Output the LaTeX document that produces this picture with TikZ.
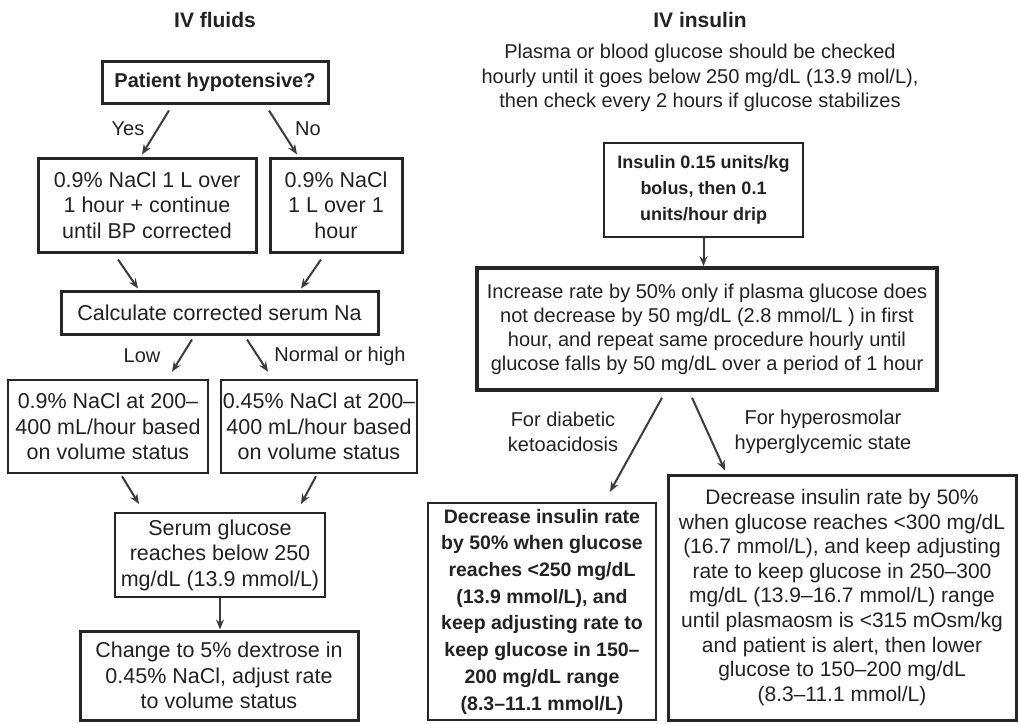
\documentclass[tikz,border=0pt]{standalone}
\usepackage{fontspec}
\setmainfont{Liberation Sans}
\usetikzlibrary{arrows.meta}
\definecolor{ink}{HTML}{222222}
\definecolor{edgec}{HTML}{262626}
\definecolor{arrc}{HTML}{3C3C3C}
\newcommand\fsBox{\fontsize{21.5pt}{25.5pt}\selectfont}
\newcommand\fsLab{\fontsize{20pt}{24pt}\selectfont}
\newcommand\fsPara{\fontsize{20pt}{24.5pt}\selectfont}
\newcommand\fsInc{\fontsize{20pt}{24pt}\selectfont}
\newcommand\fsTitle{\fontsize{21pt}{25pt}\selectfont\bfseries}
\newcommand\fsHyp{\fontsize{20pt}{24pt}\selectfont\bfseries}
\newcommand\fsIns{\fontsize{18pt}{26pt}\selectfont\bfseries}
\newcommand\fsDka{\fontsize{19.5pt}{26.7pt}\selectfont\bfseries}
\newcommand\fsHhs{\fontsize{21pt}{24.6pt}\selectfont}
\begin{document}
\begin{tikzpicture}[x=1pt,y=-1pt,
  box/.style={draw=edgec, line width=2.5pt, fill=white, text=ink, align=center, inner sep=0pt, font=\fsBox},
  lab/.style={text=ink, align=center, inner sep=0pt, font=\fsLab},
  ttl/.style={text=ink, inner sep=0pt, font=\fsTitle},
  arr/.style={draw=arrc, line width=2pt, -{Stealth[length=10pt,width=8pt]}},
]
\fill[white] (0,0) rectangle (1019,723);
\useasboundingbox (0,0) rectangle (1019,723);

% titles
\node[ttl] (t1) at (215,20) {IV fluids};
\node[ttl] (t2) at (700,20) {IV insulin};

% left column
\node[box, font=\fsHyp, line width=3pt, minimum width=226pt, minimum height=42pt] (hyp) at (215,82) {Patient hypotensive?};
\node[box, line width=3pt, minimum width=218pt, minimum height=94pt] (yesb) at (147,205) {0.9\% NaCl 1 L over\\1 hour + continue\\until BP corrected};
\node[box, line width=3pt, minimum width=132pt, minimum height=94pt] (nob) at (336,205) {0.9\% NaCl\\1 L over 1\\hour};
\node[box, line width=3pt, minimum width=317pt, minimum height=43pt] (calc) at (219.5,312.5) {Calculate corrected serum Na};
\node[box, minimum width=200pt, minimum height=93pt] (lowb) at (108,426.5) {0.9\% NaCl at 200–\\400 mL/hour based\\on volume status};
\node[box, minimum width=196pt, minimum height=93pt] (highb) at (319,426.5) {0.45\% NaCl at 200–\\400 mL/hour based\\on volume status};
\node[box, line width=2pt, minimum width=210pt, minimum height=84pt] (serum) at (220,555) {Serum glucose\\reaches below 250\\mg/dL (13.9 mmol/L)};
\node[box, line width=3pt, minimum width=278pt, minimum height=89pt] (chg) at (219,675.5) {Change to 5\% dextrose in\\0.45\% NaCl, adjust rate\\to volume status};

\node[lab] (yl) at (128,129) {Yes};
\node[lab] (nl) at (308,129) {No};
\node[lab] (ll) at (142,356) {Low};
\node[lab] (hl) at (340,356) {Normal or high};

\draw[arr] ([xshift=-46pt,yshift=-6pt]hyp.south) -- ([xshift=-5pt,yshift=2pt]yesb.north);
\draw[arr] ([xshift=54pt,yshift=-6pt]hyp.south) -- ([xshift=-39pt,yshift=2pt]nob.north);
\draw[arr] ([xshift=-29pt,yshift=-6pt]yesb.south) -- ([xshift=-81.5pt,yshift=1pt]calc.north);
\draw[arr] ([xshift=-15pt,yshift=-6pt]nob.south) -- ([xshift=81.5pt,yshift=1pt]calc.north);
\draw[arr] ([xshift=-27.5pt,yshift=-4pt]calc.south) -- ([xshift=64pt,yshift=7pt]lowb.north);
\draw[arr] ([xshift=27.5pt,yshift=-4pt]calc.south) -- ([xshift=-51pt,yshift=7pt]highb.north);
\draw[arr] ([xshift=14pt,yshift=-2pt]lowb.south) -- ([xshift=-81pt,yshift=8pt]serum.north);
\draw[arr] ([xshift=-3pt,yshift=-2pt]highb.south) -- ([xshift=81pt,yshift=8pt]serum.north);
\draw[arr] (serum.south) -- (serum.south |- chg.north);

% right column
\node[lab, font=\fsPara] (para) at (700,78) {Plasma or blood glucose should be checked\\hourly until it goes below 250 mg/dL (13.9 mol/L),\\then check every 2 hours if glucose stabilizes};
\node[box, font=\fsIns, line width=2pt, minimum width=199pt, minimum height=94pt] (ins) at (703.5,190) {Insulin 0.15 units/kg\\bolus, then 0.1\\units/hour drip};
\node[box, font=\fsInc, line width=3.5pt, minimum width=460pt, minimum height=122pt] (inc) at (707,329) {Increase rate by 50\% only if plasma glucose does\\not decrease by 50 mg/dL (2.8 mmol/L ) in first\\hour, and repeat same procedure hourly until\\glucose falls by 50 mg/dL over a period of 1 hour};
\node[lab, font=\fsPara] (dl) at (563,432) {For diabetic\\ketoacidosis};
\node[lab, font=\fsPara] (hhl) at (823,432) {For hyperosmolar\\hyperglycemic state};
\node[box, font=\fsDka, minimum width=228pt, minimum height=217pt] (dka) at (542,611.5) {Decrease insulin rate\\by 50\% when glucose\\reaches <250 mg/dL\\(13.9 mmol/L), and\\keep adjusting rate to\\keep glucose in 150–\\200 mg/dL range\\(8.3–11.1 mmol/L)};
\node[box, font=\fsHhs, line width=3pt, minimum width=348pt, minimum height=245pt] (hhs) at (842,597.5) {Decrease insulin rate by 50\%\\when glucose reaches <300 mg/dL\\(16.7 mmol/L), and keep adjusting\\rate to keep glucose in 250–300\\mg/dL (13.9–16.7 mmol/L) range\\until plasmaosm is <315 mOsm/kg\\and patient is alert, then lower\\glucose to 150–200 mg/dL\\(8.3–11.1 mmol/L)};

\draw[arr] (ins.south) -- (ins.south |- inc.north);
\draw[arr] ([xshift=-45pt,yshift=-6pt]inc.south) -- ([xshift=68pt,yshift=10pt]dka.north);
\draw[arr] ([xshift=-15pt,yshift=-6pt]inc.south) -- ([xshift=-117pt,yshift=3pt]hhs.north);
\end{tikzpicture}
\end{document}
